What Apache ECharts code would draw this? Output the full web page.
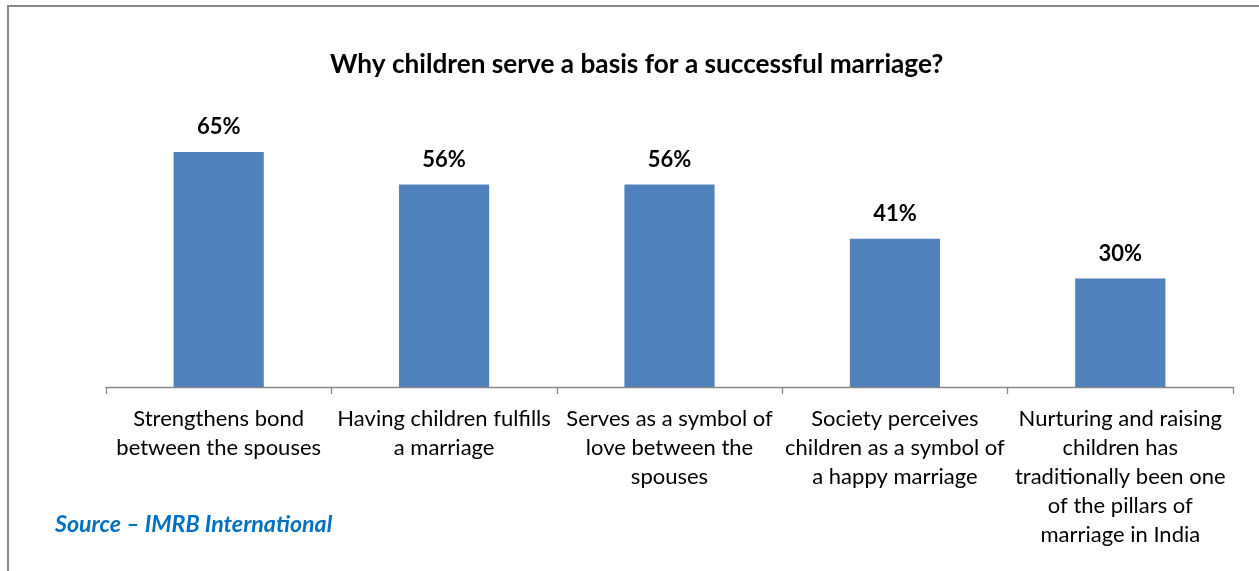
<!DOCTYPE html>
<html>
<head>
<meta charset="utf-8">
<script src="https://cdn.jsdelivr.net/npm/echarts@6/dist/echarts.min.js"></script>
<style>
  html, body { margin: 0; padding: 0; background: #ffffff; }
  #chart { width: 1259px; height: 571px; }
</style>
</head>
<body>
<div id="chart"></div>
<script>
// Reasons given, one per bar (line breaks follow the printed wrapping)
const categories = [
  'Strengthens bond\nbetween the spouses',
  'Having children fulfills\na marriage',
  'Serves as a symbol of\nlove between the\nspouses',
  'Society perceives\nchildren as a symbol of\na happy marriage',
  'Nurturing and raising\nchildren has\ntraditionally been one\nof the pillars of\nmarriage in India'
];
// Share of respondents (%)
const shares = [65, 56, 56, 41, 30];

const titleText = 'Why children serve a basis for a successful marriage?';
const sourceText = 'Source \u2013 IMRB International';

const FONT = 'Lato';

const chart = echarts.init(document.getElementById('chart'), null, { renderer: 'canvas' });

chart.setOption({
  backgroundColor: '#ffffff',
  animation: false,
  title: {
    text: titleText,
    left: 325,
    top: 47,
    textStyle: { fontFamily: FONT, fontWeight: 'bold', fontSize: 26.2, color: '#000000' }
  },
  grid: { left: 106, right: 26, top: 134, bottom: 184, containLabel: false },
  xAxis: {
    type: 'category',
    data: categories,
    axisLine: { lineStyle: { color: '#888888', width: 1.3 } },
    axisTick: { show: true, length: 7, lineStyle: { color: '#888888', width: 1.3 } },
    axisLabel: {
      interval: 0,
      margin: 17,
      fontFamily: FONT,
      fontSize: 22,
      lineHeight: 29,
      color: '#000000',
      align: 'center'
    }
  },
  yAxis: {
    type: 'value',
    min: 0,
    max: 70,
    show: false,
    splitLine: { show: false }
  },
  series: [{
    type: 'bar',
    data: shares,
    barWidth: '40%',
    itemStyle: { color: '#4F81BD' },
    label: {
      show: true,
      position: 'top',
      distance: 14,
      formatter: '{c}%',
      fontFamily: FONT,
      fontWeight: 'bold',
      fontSize: 22,
      color: '#000000'
    }
  }],
  graphic: [
    // frame: top edge and left edge
    { type: 'line', shape: { x1: 7, y1: 6, x2: 1259, y2: 6 }, style: { stroke: '#878787', lineWidth: 2 }, silent: true },
    { type: 'line', shape: { x1: 8, y1: 5, x2: 8, y2: 571 }, style: { stroke: '#878787', lineWidth: 2 }, silent: true },
    {
      type: 'text',
      left: 55,
      top: 513,
      style: {
        text: sourceText,
        fontFamily: FONT,
        fontStyle: 'italic',
        fontWeight: 'bold',
        fontSize: 23.2,
        fill: '#0070C0'
      }
    }
  ]
});
</script>
</body>
</html>
